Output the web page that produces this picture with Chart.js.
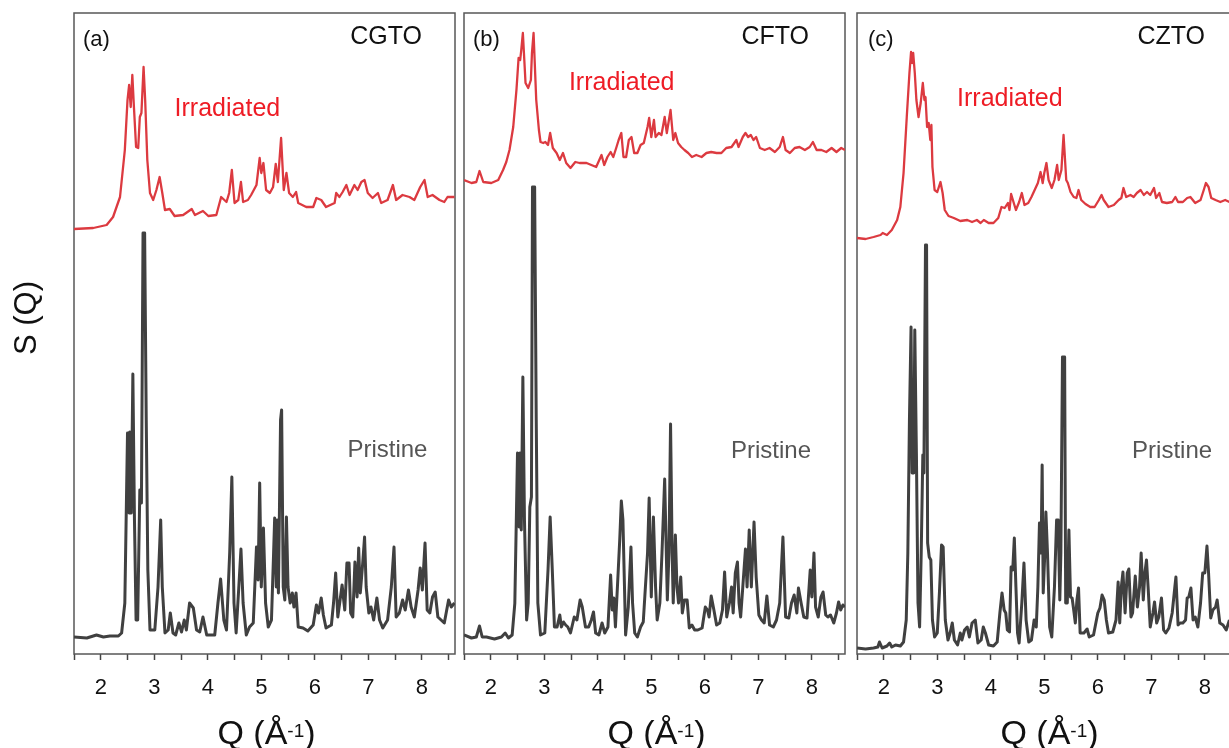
<!DOCTYPE html>
<html>
<head>
<meta charset="utf-8">
<script src="https://cdn.jsdelivr.net/npm/chart.js@4/dist/chart.umd.min.js"></script>
<style>
  html, body { margin: 0; padding: 0; background: #fff; overflow: hidden; }
  body { width: 1229px; height: 748px; position: relative; }
  canvas { position: absolute; top: 0; }
</style>
</head>
<body>
<canvas id="cgto" width="470" height="748" style="left:0px"></canvas>
<canvas id="cfto" width="411" height="748" style="left:449px"></canvas>
<canvas id="czto" width="411" height="748" style="left:842px"></canvas>
<script>
// Q axis (Å^-1) ticks, every half unit; only whole numbers get a label
const qTicks = [1.5, 2, 2.5, 3, 3.5, 4, 4.5, 5, 5.5, 6, 6.5, 7, 7.5, 8, 8.5];
const qMin = 1.5, qMax = 8.62;
const sMax = 6.41;   // S(Q), arbitrary units, irradiated curves offset upwards

// [Q, S(Q)] pairs
const cgtoIrradiated = [[1.5,4.25],[1.86,4.26],[2.11,4.29],[2.23,4.37],[2.36,4.57],[2.45,5.04],[2.50,5.54],[2.53,5.69],[2.56,5.47],[2.59,5.79],[2.62,5.47],[2.66,5.07],[2.70,5.06],[2.73,5.37],[2.76,5.41],[2.80,5.87],[2.83,5.54],[2.87,4.94],[2.92,4.61],[2.98,4.54],[3.04,4.64],[3.10,4.77],[3.15,4.61],[3.20,4.44],[3.29,4.45],[3.38,4.38],[3.54,4.39],[3.70,4.45],[3.76,4.39],[3.91,4.43],[4.01,4.38],[4.16,4.39],[4.25,4.57],[4.35,4.52],[4.40,4.61],[4.45,4.84],[4.50,4.51],[4.57,4.54],[4.62,4.72],[4.66,4.52],[4.75,4.54],[4.81,4.59],[4.91,4.69],[4.97,4.96],[5.00,4.81],[5.04,4.91],[5.09,4.64],[5.16,4.61],[5.22,4.67],[5.27,4.90],[5.31,4.72],[5.37,5.16],[5.42,4.64],[5.47,4.81],[5.52,4.61],[5.59,4.57],[5.65,4.62],[5.69,4.51],[5.84,4.47],[5.97,4.47],[6.03,4.56],[6.12,4.54],[6.21,4.47],[6.37,4.51],[6.40,4.61],[6.46,4.57],[6.52,4.62],[6.59,4.69],[6.65,4.59],[6.74,4.69],[6.80,4.64],[6.87,4.72],[6.93,4.74],[6.99,4.61],[7.08,4.56],[7.18,4.61],[7.24,4.51],[7.36,4.54],[7.46,4.69],[7.52,4.54],[7.64,4.59],[7.77,4.57],[7.86,4.54],[7.97,4.67],[8.05,4.74],[8.11,4.57],[8.20,4.59],[8.33,4.54],[8.42,4.52],[8.48,4.57],[8.61,4.57]];

const cgtoPristine = [[1.5,0.17],[1.74,0.16],[1.92,0.19],[2.05,0.17],[2.17,0.18],[2.33,0.18],[2.39,0.21],[2.45,0.51],[2.50,2.21],[2.53,1.41],[2.54,2.22],[2.57,1.41],[2.60,2.80],[2.63,1.34],[2.66,0.34],[2.69,0.34],[2.73,1.64],[2.76,1.51],[2.79,4.21],[2.82,4.21],[2.85,2.34],[2.88,0.84],[2.92,0.24],[3.01,0.24],[3.07,0.67],[3.12,1.34],[3.15,0.67],[3.20,0.21],[3.26,0.24],[3.30,0.41],[3.35,0.21],[3.40,0.19],[3.46,0.31],[3.51,0.22],[3.56,0.34],[3.60,0.24],[3.66,0.51],[3.73,0.46],[3.79,0.24],[3.85,0.22],[3.91,0.37],[3.98,0.19],[4.13,0.19],[4.19,0.51],[4.24,0.75],[4.30,0.34],[4.35,0.24],[4.41,1.02],[4.45,1.77],[4.49,0.51],[4.53,0.21],[4.58,0.67],[4.62,1.05],[4.66,0.51],[4.72,0.19],[4.78,0.27],[4.85,0.31],[4.91,1.07],[4.94,0.74],[4.97,1.71],[5.00,0.67],[5.04,1.26],[5.08,0.51],[5.13,0.27],[5.19,0.34],[5.23,1.01],[5.25,1.36],[5.28,0.67],[5.30,1.34],[5.32,0.61],[5.36,2.34],[5.38,2.44],[5.41,0.67],[5.44,0.54],[5.47,1.37],[5.50,0.67],[5.54,0.51],[5.58,0.61],[5.61,0.47],[5.65,0.61],[5.69,0.27],[5.78,0.26],[5.87,0.23],[5.97,0.29],[6.03,0.49],[6.07,0.41],[6.12,0.56],[6.16,0.39],[6.21,0.26],[6.31,0.29],[6.35,0.51],[6.39,0.81],[6.43,0.37],[6.48,0.57],[6.51,0.69],[6.56,0.44],[6.60,0.91],[6.64,0.91],[6.67,0.41],[6.71,0.37],[6.75,0.92],[6.79,0.57],[6.82,1.06],[6.85,0.61],[6.89,0.87],[6.93,1.17],[6.96,0.67],[7.01,0.41],[7.05,0.47],[7.10,0.34],[7.16,0.56],[7.21,0.34],[7.27,0.26],[7.36,0.34],[7.43,0.67],[7.48,1.07],[7.52,0.37],[7.58,0.41],[7.64,0.54],[7.69,0.44],[7.75,0.64],[7.80,0.47],[7.86,0.37],[7.93,0.64],[7.97,0.86],[8.01,0.64],[8.06,1.11],[8.10,0.44],[8.15,0.41],[8.20,0.57],[8.25,0.62],[8.30,0.37],[8.36,0.34],[8.42,0.31],[8.50,0.54],[8.55,0.47],[8.61,0.51]];

const cftoIrradiated = [[1.5,4.74],[1.64,4.71],[1.73,4.72],[1.79,4.83],[1.86,4.72],[2.01,4.71],[2.14,4.74],[2.23,4.84],[2.29,4.92],[2.35,5.04],[2.42,5.27],[2.48,5.64],[2.52,5.96],[2.55,5.94],[2.57,6.04],[2.60,6.21],[2.62,6.01],[2.65,5.71],[2.70,5.66],[2.75,5.74],[2.77,6.01],[2.80,6.21],[2.82,5.94],[2.85,5.54],[2.90,5.24],[2.93,5.12],[2.98,5.11],[3.02,5.12],[3.07,5.09],[3.11,5.21],[3.16,5.06],[3.23,5.01],[3.29,4.94],[3.35,5.01],[3.41,4.91],[3.49,4.86],[3.58,4.92],[3.66,4.91],[3.79,4.91],[3.88,4.89],[3.97,4.87],[4.07,4.99],[4.12,4.89],[4.18,4.97],[4.24,5.02],[4.29,4.97],[4.35,5.07],[4.39,5.14],[4.44,5.21],[4.48,4.97],[4.53,4.97],[4.58,5.14],[4.63,5.17],[4.68,5.01],[4.74,5.01],[4.80,5.09],[4.86,5.11],[4.93,5.27],[4.96,5.36],[5.00,5.17],[5.05,5.34],[5.08,5.17],[5.14,5.21],[5.19,5.19],[5.25,5.37],[5.29,5.21],[5.36,5.44],[5.41,5.14],[5.45,5.21],[5.50,5.11],[5.56,5.07],[5.62,5.04],[5.69,5.01],[5.76,4.97],[5.84,4.99],[5.94,4.97],[6.03,5.01],[6.12,5.02],[6.22,5.01],[6.31,5.01],[6.40,5.06],[6.50,5.07],[6.59,5.14],[6.63,5.07],[6.71,5.17],[6.76,5.21],[6.81,5.17],[6.86,5.19],[6.91,5.14],[6.96,5.17],[7.03,5.06],[7.12,5.04],[7.21,5.06],[7.31,5.02],[7.40,5.07],[7.46,5.17],[7.51,5.04],[7.59,5.01],[7.68,5.06],[7.77,5.07],[7.87,5.04],[7.96,5.07],[8.02,5.12],[8.09,5.04],[8.18,5.04],[8.27,5.02],[8.37,5.06],[8.46,5.02],[8.55,5.06],[8.62,5.04]];

const cftoPristine = [[1.5,0.19],[1.64,0.16],[1.73,0.17],[1.79,0.28],[1.84,0.17],[1.92,0.17],[2.07,0.15],[2.20,0.17],[2.27,0.21],[2.33,0.16],[2.40,0.19],[2.45,0.51],[2.50,2.01],[2.53,1.27],[2.55,2.01],[2.57,1.24],[2.60,2.77],[2.63,1.34],[2.67,0.34],[2.70,0.51],[2.73,1.47],[2.76,1.57],[2.78,4.67],[2.82,4.67],[2.85,2.34],[2.88,0.51],[2.93,0.19],[3.01,0.21],[3.07,0.84],[3.11,1.37],[3.15,0.84],[3.19,0.27],[3.24,0.27],[3.29,0.39],[3.32,0.27],[3.36,0.32],[3.40,0.29],[3.44,0.27],[3.49,0.21],[3.56,0.37],[3.61,0.34],[3.67,0.54],[3.71,0.47],[3.77,0.27],[3.83,0.27],[3.88,0.34],[3.92,0.42],[3.96,0.21],[4.02,0.19],[4.08,0.31],[4.13,0.21],[4.19,0.27],[4.24,0.79],[4.27,0.44],[4.30,0.56],[4.33,0.27],[4.38,0.81],[4.41,1.14],[4.44,1.53],[4.47,1.34],[4.52,0.19],[4.57,0.47],[4.62,1.07],[4.65,0.51],[4.69,0.21],[4.74,0.17],[4.80,0.27],[4.85,0.32],[4.89,0.67],[4.93,1.01],[4.96,1.56],[5.00,0.57],[5.04,1.37],[5.08,0.67],[5.11,0.34],[5.16,0.51],[5.20,1.01],[5.25,1.75],[5.30,0.54],[5.33,1.01],[5.36,2.30],[5.39,1.01],[5.41,0.51],[5.45,1.19],[5.48,0.67],[5.51,0.51],[5.55,0.77],[5.58,0.41],[5.62,0.54],[5.67,0.54],[5.71,0.26],[5.76,0.29],[5.81,0.24],[5.87,0.24],[5.95,0.26],[6.01,0.47],[6.05,0.44],[6.08,0.37],[6.12,0.58],[6.17,0.44],[6.22,0.29],[6.28,0.31],[6.33,0.44],[6.37,0.82],[6.41,0.37],[6.46,0.51],[6.50,0.67],[6.53,0.41],[6.57,0.81],[6.61,0.92],[6.64,0.51],[6.67,0.37],[6.71,0.67],[6.76,1.05],[6.79,0.67],[6.83,1.24],[6.87,0.67],[6.92,1.32],[6.96,0.77],[7.01,0.39],[7.06,0.34],[7.11,0.31],[7.16,0.58],[7.21,0.29],[7.28,0.27],[7.34,0.34],[7.40,0.51],[7.46,1.17],[7.51,0.37],[7.57,0.36],[7.62,0.51],[7.67,0.59],[7.72,0.41],[7.75,0.66],[7.80,0.51],[7.85,0.37],[7.91,0.36],[7.97,0.84],[8.00,0.57],[8.04,1.01],[8.07,0.47],[8.12,0.37],[8.17,0.57],[8.21,0.62],[8.26,0.39],[8.30,0.37],[8.35,0.39],[8.41,0.31],[8.46,0.41],[8.50,0.52],[8.54,0.44],[8.58,0.49],[8.62,0.47]];

const cztoIrradiated = [[1.5,4.16],[1.66,4.15],[1.81,4.17],[1.94,4.19],[1.98,4.21],[2.06,4.19],[2.15,4.24],[2.25,4.34],[2.31,4.47],[2.37,4.81],[2.43,5.37],[2.48,5.81],[2.51,6.02],[2.53,5.91],[2.55,6.01],[2.58,5.81],[2.61,5.54],[2.65,5.37],[2.69,5.51],[2.73,5.71],[2.76,5.54],[2.78,5.57],[2.81,5.27],[2.84,5.31],[2.87,5.14],[2.89,5.29],[2.91,4.87],[2.95,4.64],[3.00,4.62],[3.06,4.72],[3.10,4.61],[3.14,4.44],[3.21,4.38],[3.31,4.36],[3.43,4.33],[3.56,4.34],[3.65,4.32],[3.74,4.34],[3.81,4.31],[3.87,4.34],[3.96,4.31],[4.05,4.31],[4.14,4.36],[4.20,4.47],[4.26,4.46],[4.32,4.51],[4.35,4.44],[4.38,4.60],[4.43,4.51],[4.47,4.44],[4.53,4.52],[4.58,4.61],[4.63,4.49],[4.70,4.51],[4.76,4.57],[4.82,4.64],[4.88,4.71],[4.93,4.82],[4.97,4.71],[5.00,4.81],[5.04,4.91],[5.08,4.74],[5.14,4.66],[5.19,4.74],[5.24,4.89],[5.27,4.74],[5.32,4.84],[5.36,5.19],[5.41,4.74],[5.44,4.71],[5.49,4.62],[5.55,4.57],[5.60,4.56],[5.64,4.64],[5.69,4.54],[5.77,4.50],[5.86,4.47],[5.94,4.47],[6.02,4.54],[6.07,4.59],[6.11,4.54],[6.20,4.47],[6.30,4.49],[6.39,4.54],[6.44,4.56],[6.48,4.66],[6.53,4.57],[6.61,4.59],[6.67,4.57],[6.73,4.61],[6.80,4.64],[6.86,4.59],[6.92,4.62],[6.98,4.59],[7.05,4.66],[7.09,4.56],[7.15,4.61],[7.20,4.52],[7.29,4.51],[7.39,4.52],[7.45,4.57],[7.50,4.52],[7.59,4.52],[7.67,4.56],[7.73,4.57],[7.82,4.51],[7.92,4.54],[7.98,4.64],[8.02,4.71],[8.07,4.67],[8.12,4.56],[8.20,4.54],[8.29,4.52],[8.38,4.54],[8.46,4.52]];

const cztoPristine = [[1.5,0.06],[1.66,0.05],[1.81,0.06],[1.89,0.07],[1.92,0.12],[1.97,0.06],[2.06,0.08],[2.11,0.11],[2.15,0.07],[2.22,0.09],[2.31,0.08],[2.37,0.12],[2.42,0.34],[2.45,1.01],[2.48,2.34],[2.51,3.27],[2.53,1.81],[2.56,1.81],[2.58,3.24],[2.61,2.01],[2.64,0.51],[2.67,0.27],[2.70,1.01],[2.73,1.99],[2.75,1.81],[2.78,4.09],[2.80,4.09],[2.82,1.11],[2.85,0.97],[2.88,0.94],[2.91,0.34],[2.95,0.17],[3.00,0.21],[3.04,0.61],[3.08,1.09],[3.11,1.07],[3.15,0.34],[3.20,0.14],[3.24,0.21],[3.28,0.31],[3.32,0.14],[3.38,0.09],[3.43,0.21],[3.46,0.14],[3.51,0.24],[3.56,0.27],[3.60,0.17],[3.65,0.31],[3.71,0.34],[3.76,0.11],[3.82,0.14],[3.86,0.27],[3.90,0.21],[3.96,0.09],[4.05,0.08],[4.12,0.12],[4.17,0.41],[4.21,0.61],[4.25,0.44],[4.28,0.41],[4.31,0.24],[4.35,0.22],[4.38,0.87],[4.41,0.84],[4.44,1.16],[4.47,0.67],[4.50,0.21],[4.53,0.11],[4.58,0.51],[4.62,0.91],[4.66,0.34],[4.71,0.12],[4.76,0.14],[4.81,0.34],[4.85,0.27],[4.88,0.67],[4.91,1.31],[4.94,1.01],[4.96,1.89],[4.98,0.61],[5.01,1.01],[5.03,1.42],[5.06,1.01],[5.10,0.27],[5.14,0.17],[5.19,0.67],[5.23,1.34],[5.26,1.34],[5.29,0.54],[5.31,1.01],[5.34,2.97],[5.38,2.97],[5.40,0.51],[5.43,0.51],[5.46,1.24],[5.49,0.57],[5.52,0.56],[5.55,0.44],[5.58,0.31],[5.61,0.54],[5.64,0.66],[5.67,0.21],[5.74,0.21],[5.80,0.25],[5.84,0.17],[5.92,0.19],[6.00,0.41],[6.04,0.46],[6.08,0.59],[6.12,0.54],[6.16,0.34],[6.20,0.21],[6.28,0.22],[6.34,0.34],[6.38,0.72],[6.41,0.31],[6.44,0.67],[6.47,0.82],[6.51,0.41],[6.55,0.81],[6.58,0.85],[6.62,0.37],[6.65,0.41],[6.70,0.78],[6.74,0.47],[6.78,0.67],[6.81,1.01],[6.85,0.54],[6.88,0.81],[6.91,0.94],[6.94,0.67],[6.98,0.27],[7.03,0.41],[7.06,0.52],[7.10,0.31],[7.14,0.37],[7.19,0.56],[7.23,0.24],[7.27,0.21],[7.33,0.26],[7.39,0.41],[7.44,0.67],[7.46,0.77],[7.50,0.29],[7.54,0.31],[7.59,0.31],[7.64,0.34],[7.67,0.56],[7.70,0.57],[7.74,0.66],[7.78,0.34],[7.82,0.37],[7.87,0.27],[7.92,0.51],[7.96,0.81],[8.00,0.81],[8.04,1.08],[8.07,0.81],[8.11,0.36],[8.15,0.44],[8.20,0.47],[8.23,0.54],[8.28,0.31],[8.34,0.29],[8.40,0.24],[8.46,0.34]];

const FONT = '"Liberation Sans", Arial, sans-serif';
const RED_LINE = '#dc3a40';
const RED_TEXT = '#ee1c25';
const DARK_LINE = '#404040';
const FRAME = '#575757';

// frame around the plot area plus all the text labels
const panelDecor = {
  id: 'panelDecor',
  beforeDatasetsDraw(chart) {
    const {ctx, chartArea: a} = chart;
    ctx.save();
    ctx.strokeStyle = FRAME;
    ctx.lineWidth = 1.5;
    ctx.strokeRect(a.left, a.top, a.right - a.left, a.bottom - a.top);
    ctx.restore();
  },
  afterDraw(chart, args, opts) {
    const {ctx, chartArea: a, scales: {x, y}} = chart;
    ctx.save();
    ctx.textBaseline = 'alphabetic';

    ctx.fillStyle = '#111';
    ctx.font = '22px ' + FONT;
    ctx.textAlign = 'left';
    ctx.fillText(opts.tag, a.left + opts.tagDx, a.top + 33);
    ctx.font = '25px ' + FONT;
    ctx.textAlign = 'right';
    ctx.fillText(opts.name, a.right - opts.nameDx, a.top + 31);

    ctx.textAlign = 'left';
    ctx.fillStyle = RED_TEXT;
    ctx.fillText('Irradiated', x.getPixelForValue(opts.irr[0]), y.getPixelForValue(opts.irr[1]));
    ctx.fillStyle = '#555';
    ctx.font = '24px ' + FONT;
    ctx.fillText('Pristine', x.getPixelForValue(opts.pri[0]), y.getPixelForValue(opts.pri[1]));

    // Q (Å^-1) with a raised "-1"
    ctx.fillStyle = '#111';
    const big = '34px ' + FONT, small = '19px ' + FONT;
    ctx.font = big;
    const w1 = ctx.measureText('Q (Å').width, w3 = ctx.measureText(')').width;
    ctx.font = small;
    const w2 = ctx.measureText('-1').width;
    let tx = (a.left + a.right) / 2 + 2 - (w1 + w2 + w3) / 2;
    const base = 744;
    ctx.font = big;
    ctx.fillText('Q (Å', tx, base);
    tx += w1;
    ctx.font = small;
    ctx.fillText('-1', tx, base - 7);
    tx += w2;
    ctx.font = big;
    ctx.fillText(')', tx, base);

    if (opts.yTitle) {
      ctx.translate(36, 318);
      ctx.rotate(-Math.PI / 2);
      ctx.textAlign = 'center';
      ctx.font = '31px ' + FONT;
      ctx.fillText('S (Q)', 0, 0);
    }
    ctx.restore();
  }
};

// padLeft/padRight must stay >= the tick padding, or the scale widens them itself
function makePanel(id, irradiated, pristine, padLeft, padRight, decor) {
  const toXY = arr => arr.map(p => ({x: p[0], y: p[1]}));
  return new Chart(document.getElementById(id), {
    type: 'line',
    data: {
      datasets: [
        {label: 'Irradiated', data: toXY(irradiated), borderColor: RED_LINE, borderWidth: 2.3},
        {label: 'Pristine', data: toXY(pristine), borderColor: DARK_LINE, borderWidth: 3}
      ]
    },
    options: {
      responsive: false,
      animation: false,
      events: [],
      elements: {
        point: {radius: 0},
        line: {tension: 0, fill: false, borderJoinStyle: 'round'}
      },
      layout: {padding: {left: padLeft, right: padRight, top: 13, bottom: 0}},
      scales: {
        x: {
          type: 'linear',
          min: qMin,
          max: qMax,
          afterBuildTicks: s => { s.ticks = qTicks.map(v => ({value: v})); },
          afterFit: s => { s.height = 94; },
          ticks: {
            autoSkip: false,
            maxRotation: 0,
            padding: 15,
            color: '#111',
            font: {family: FONT, size: 22},
            callback: v => Number.isInteger(v) ? String(v) : ''
          },
          grid: {drawOnChartArea: false, drawTicks: true, tickLength: 6, tickWidth: 1.5, tickColor: '#444'},
          border: {display: false}
        },
        y: {display: false, min: 0, max: sMax}
      },
      plugins: {
        legend: {display: false},
        tooltip: {enabled: false},
        panelDecor: decor
      }
    },
    plugins: [panelDecor]
  });
}

makePanel('cgto', cgtoIrradiated, cgtoPristine, 74, 15,
  {tag: '(a)', name: 'CGTO', tagDx: 9, nameDx: 33, irr: [3.38, 5.38], pri: [6.61, 1.97], yTitle: true});
makePanel('cfto', cftoIrradiated, cftoPristine, 15, 15,
  {tag: '(b)', name: 'CFTO', tagDx: 9, nameDx: 36, irr: [3.46, 5.64], pri: [6.49, 1.96], yTitle: false});
makePanel('czto', cztoIrradiated, cztoPristine, 15, 15,
  {tag: '(c)', name: 'CZTO', tagDx: 11, nameDx: 33, irr: [3.37, 5.48], pri: [6.64, 1.96], yTitle: false});
</script>
</body>
</html>
